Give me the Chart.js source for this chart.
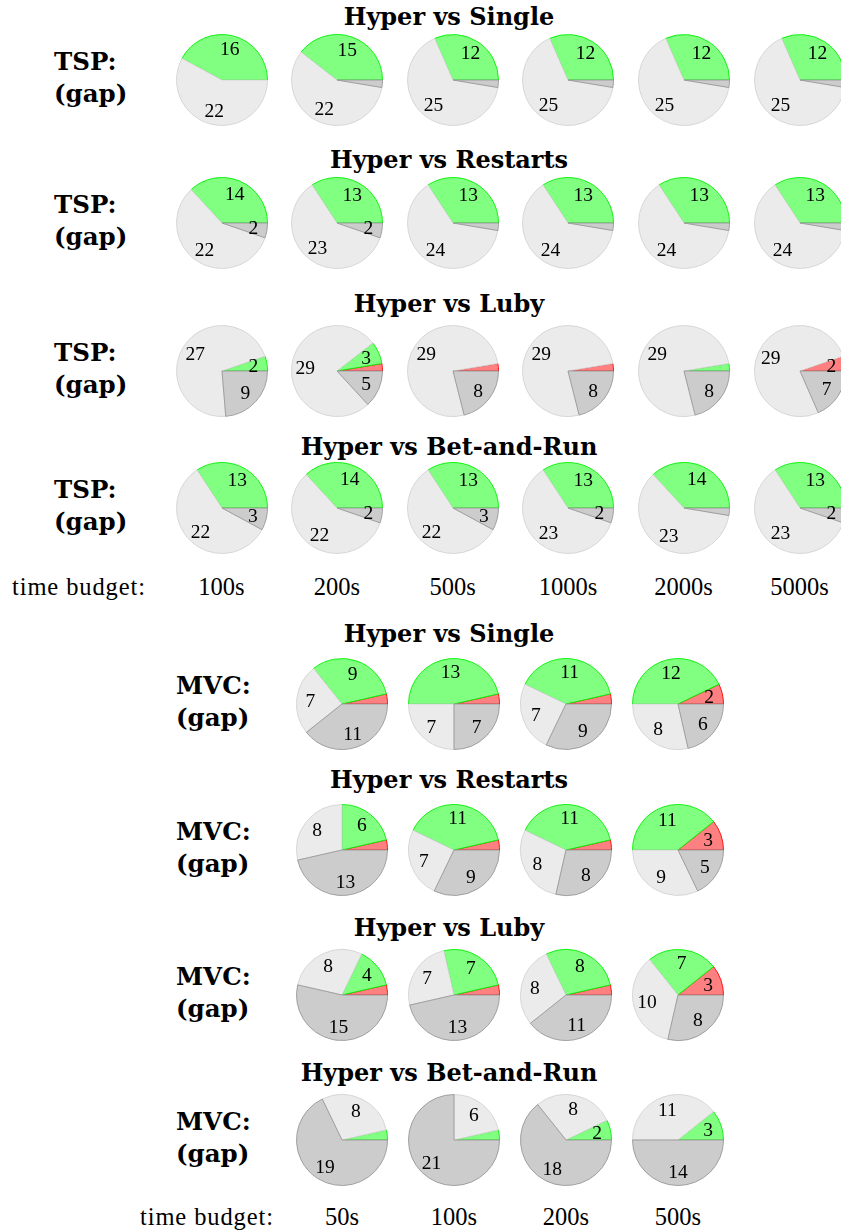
<!DOCTYPE html>
<html>
<head>
<meta charset="utf-8">
<script src="https://cdn.jsdelivr.net/npm/chart.js@4.4.0/dist/chart.umd.min.js"></script>
<style>
  html, body { margin: 0; padding: 0; background: #fff; overflow: hidden; }
  #page { position: relative; width: 841px; height: 1232px; overflow: hidden; background: #fff; }
  /* pies are drawn clockwise by Chart.js; flipping the canvas makes them run counter-clockwise from 3 o'clock */
  .pie { position: absolute; width: 100px; height: 100px; transform: scaleY(-1); }
  .t { position: absolute; white-space: nowrap; color: #000; line-height: 1; }
  .title { font: bold 24px "DejaVu Serif"; transform: translate(-50%, -50%); }
  .side { font: bold 24.5px "DejaVu Serif"; transform: translateY(-50%); }
  .budget { font: 24.5px "Liberation Serif"; transform: translate(-50%, -50%); }
  .budgetHead { font: 24.5px "Liberation Serif"; letter-spacing: 0.9px; transform: translateY(-50%); }
</style>
</head>
<body>
<div id="page"></div>
<script>
// ---- data -------------------------------------------------------------
const opponents  = ['Single', 'Restarts', 'Luby', 'Bet-and-Run'];
const tspBudgets = ['100s', '200s', '500s', '1000s', '2000s', '5000s'];
const mvcBudgets = ['50s', '100s', '200s', '500s'];

// one row per opponent, one column per time budget
const tspWins   = [[16, 15, 12, 12, 12, 12], [14, 13, 13, 13, 13, 13], [2, 3, 0, 0, 1, 0], [13, 14, 13, 13, 14, 13]];
const tspLosses = [[0, 0, 0, 0, 0, 0], [0, 0, 0, 0, 0, 0], [0, 1, 1, 1, 0, 2], [0, 0, 0, 0, 0, 0]];
const tspLight  = [[22, 22, 25, 25, 25, 25], [22, 23, 24, 24, 24, 24], [27, 29, 29, 29, 29, 29], [22, 22, 22, 23, 23, 23]];
const tspDark   = [[0, 1, 1, 1, 1, 1], [2, 2, 1, 1, 1, 1], [9, 5, 8, 8, 8, 7], [3, 2, 3, 2, 1, 2]];

const mvcWins   = [[9, 13, 11, 12], [6, 11, 11, 11], [4, 7, 8, 7], [1, 1, 2, 3]];
const mvcLosses = [[1, 1, 1, 2], [1, 1, 1, 3], [1, 1, 1, 3], [0, 0, 0, 0]];
const mvcLight  = [[7, 7, 7, 8], [8, 7, 8, 9], [8, 7, 8, 10], [8, 6, 8, 11]];
const mvcDark   = [[11, 7, 9, 6], [13, 9, 8, 5], [15, 13, 11, 8], [19, 21, 18, 14]];

// ---- styling ----------------------------------------------------------
// slice order (counter-clockwise from 3 o'clock): losses, wins, light, dark
const sliceFill = ['#ff8080', '#80ff80', '#ebebeb', '#cccccc'];
const sliceEdge = ['#ff0000', '#00f000', '#d4d4d4', '#999999'];
const PIE_R = 45.5;

const sliceLabels = {
  id: 'sliceLabels',
  afterDatasetsDraw(chart) {
    const ctx = chart.ctx;
    const meta = chart.getDatasetMeta(0);
    const vals = chart.data.datasets[0].data;
    ctx.save();
    ctx.font = '19.5px "Liberation Serif"';
    ctx.fillStyle = '#000';
    ctx.textAlign = 'center';
    ctx.textBaseline = 'middle';
    meta.data.forEach((arc, i) => {
      const v = vals[i];
      if (v < 2) return;
      const p = arc.getProps(['x', 'y', 'startAngle', 'endAngle', 'outerRadius'], true);
      const a = (p.startAngle + p.endAngle) / 2;
      const r = p.outerRadius * 0.7;
      ctx.save();
      ctx.translate(p.x + Math.cos(a) * r, p.y + Math.sin(a) * r);
      ctx.scale(1, -1);
      ctx.fillText(String(v), 0, 1);
      ctx.restore();
    });
    ctx.restore();
  }
};

const page = document.getElementById('page');

function addText(cls, text, x, y) {
  const d = document.createElement('div');
  d.className = 't ' + cls;
  d.textContent = text;
  d.style.left = x + 'px';
  d.style.top = y + 'px';
  page.appendChild(d);
}

function addPie(cx, cy, values) {
  const c = document.createElement('canvas');
  c.className = 'pie';
  c.width = 100; c.height = 100;
  c.style.left = (cx - 50) + 'px';
  c.style.top = (cy - 50) + 'px';
  page.appendChild(c);
  new Chart(c, {
    type: 'pie',
    data: {
      labels: ['losses', 'wins', 'light', 'dark'],
      datasets: [{
        data: values,
        backgroundColor: sliceFill,
        borderColor: sliceEdge,
        borderWidth: 0.9,
        radius: PIE_R
      }]
    },
    options: {
      responsive: false,
      animation: false,
      events: [],
      rotation: 90,
      layout: { padding: 0 },
      plugins: { legend: { display: false }, tooltip: { enabled: false } }
    },
    plugins: [sliceLabels]
  });
}

function section(cfg) {
  const { problem, budgets, wins, losses, light, dark, colX, rowY, titleY, sideX, budgetY, headX } = cfg;
  opponents.forEach((opp, r) => {
    addText('title', 'Hyper vs ' + opp, 449, titleY[r]);
    addText('side', problem + ':', sideX, rowY[r] - 19);
    addText('side', '(gap)', sideX, rowY[r] + 13);
    budgets.forEach((b, c) => {
      addPie(colX[c], rowY[r], [losses[r][c], wins[r][c], light[r][c], dark[r][c]]);
    });
  });
  addText('budgetHead', 'time budget:', headX, budgetY);
  budgets.forEach((b, c) => addText('budget', b, colX[c], budgetY));
}

section({
  problem: 'TSP', budgets: tspBudgets,
  wins: tspWins, losses: tspLosses, light: tspLight, dark: tspDark,
  colX: [221.5, 337, 452.7, 568, 683.5, 799.5],
  rowY: [79.5, 223, 371, 508],
  titleY: [15.7, 159, 303, 446],
  sideX: 54, budgetY: 587, headX: 12
});

section({
  problem: 'MVC', budgets: mvcBudgets,
  wins: mvcWins, losses: mvcLosses, light: mvcLight, dark: mvcDark,
  colX: [342, 454, 566, 678],
  rowY: [704, 850, 995, 1140],
  titleY: [633, 779, 927, 1072],
  sideX: 176, budgetY: 1217, headX: 140
});
</script>
</body>
</html>
